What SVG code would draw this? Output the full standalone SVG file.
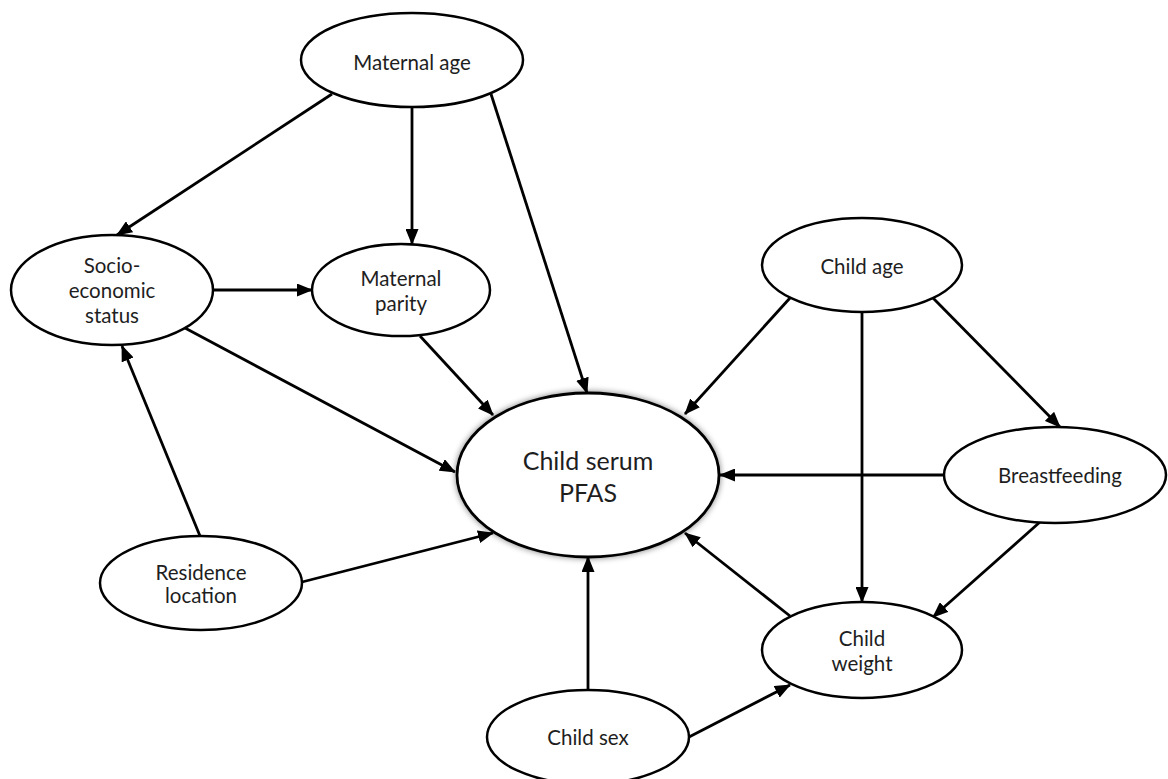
<svg xmlns="http://www.w3.org/2000/svg" width="1168" height="779" viewBox="0 0 1168 779">
<style>
.node ellipse{fill:#fff;stroke:#000;stroke-width:2.5}
.node text{font-family:Lato,"Noto Sans","Liberation Sans",sans-serif;font-size:20.5px;fill:#1e1e1e;text-anchor:middle;dominant-baseline:central}
.big text{font-size:25px}
.big ellipse{stroke-width:2.8}
.edges line{stroke:#000;stroke-width:2.8;marker-end:url(#ah)}
</style>
<defs>
<marker id="ah" markerUnits="userSpaceOnUse" markerWidth="16" markerHeight="13" refX="15" refY="6.5" orient="auto">
<path d="M0,0 L16,6.5 L0,13 z" fill="#000"/>
</marker>
<filter id="glow" x="-20%" y="-20%" width="140%" height="140%">
<feGaussianBlur in="SourceAlpha" stdDeviation="3"/>
<feComponentTransfer><feFuncA type="linear" slope="0.5"/></feComponentTransfer>
<feMerge><feMergeNode/><feMergeNode in="SourceGraphic"/></feMerge>
</filter>
</defs>
<rect width="1168" height="779" fill="#fff"/>
<g class="edges">
<line x1="332" y1="94" x2="117" y2="235"/>
<line x1="412" y1="107" x2="412" y2="244"/>
<line x1="491" y1="94" x2="587" y2="393"/>
<line x1="213" y1="290" x2="312" y2="290"/>
<line x1="185" y1="328" x2="455" y2="472"/>
<line x1="420" y1="336" x2="493" y2="415"/>
<line x1="200" y1="536" x2="122" y2="346"/>
<line x1="302" y1="582" x2="493" y2="533"/>
<line x1="790" y1="298" x2="685" y2="414"/>
<line x1="862" y1="312" x2="862" y2="602"/>
<line x1="933" y1="298" x2="1060" y2="427"/>
<line x1="944" y1="475" x2="720" y2="475"/>
<line x1="1040" y1="522" x2="933" y2="617"/>
<line x1="790" y1="616" x2="685" y2="533"/>
<line x1="588" y1="690" x2="588" y2="557"/>
<line x1="689" y1="737" x2="790" y2="685"/>
</g>
<g id="maternal_age" class="node"><ellipse cx="412" cy="60" rx="111" ry="47"/><text x="412" y="62">Maternal age</text></g>
<g id="ses" class="node"><ellipse cx="112" cy="290" rx="101" ry="55"/><text x="112" y="265">Socio-</text><text x="112" y="290">economic</text><text x="112" y="315">status</text></g>
<g id="maternal_parity" class="node"><ellipse cx="401" cy="290" rx="89" ry="46"/><text x="401" y="278">Maternal</text><text x="401" y="303">parity</text></g>
<g id="child_age" class="node"><ellipse cx="862" cy="265" rx="100" ry="47"/><text x="862" y="266">Child age</text></g>
<g id="breastfeeding" class="node"><ellipse cx="1055" cy="475" rx="111" ry="48"/><text x="1060" y="475">Breastfeeding</text></g>
<g id="child_serum_pfas" class="node big"><ellipse cx="588" cy="475" rx="131" ry="82" filter="url(#glow)"/><text x="588" y="460">Child serum</text><text x="588" y="492">PFAS</text></g>
<g id="residence_location" class="node"><ellipse cx="201" cy="583" rx="101" ry="47"/><text x="201" y="572">Residence</text><text x="201" y="595">location</text></g>
<g id="child_weight" class="node"><ellipse cx="862" cy="650" rx="100" ry="48"/><text x="862" y="638">Child</text><text x="862" y="663">weight</text></g>
<g id="child_sex" class="node"><ellipse cx="588" cy="737" rx="101" ry="47"/><text x="588" y="737">Child sex</text></g>
</svg>
